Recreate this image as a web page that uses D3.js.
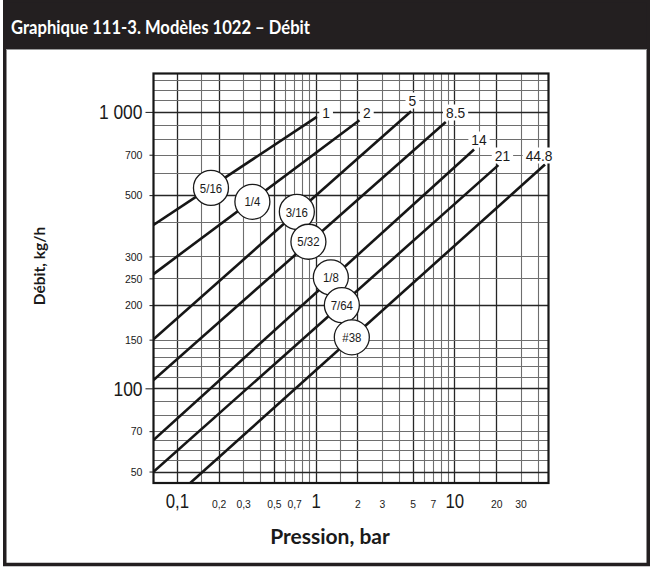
<!DOCTYPE html>
<html><head><meta charset="utf-8">
<script src="https://cdn.jsdelivr.net/npm/d3@7"></script>
<style>
html,body{margin:0;padding:0;background:#fff;}
svg{display:block;}
</style></head>
<body>
<svg id="chart" width="653" height="569"></svg>
<script>
// ---- data ----
const orificeSizes = ["5/16","1/4","3/16","5/32","1/8","7/64","#38"];
const maxPressureLabels = ["1","2","5","8.5","14","21","44.8"];
const startPressure = [0.0678,0.0678,0.0678,0.0678,0.0678,0.0678,0.1247];
const startFlow = [390,259,150.4,107.1,65.0,49.9,45.45];
const endPressure = [1.02,2.07,4.88,8.67,13.87,20.75,45.0];
const endFlow = [959,933,1006,920,731,642,645];
const badgePressure = [0.176,0.350,0.732,0.887,1.287,1.545,1.823];
const badgeFlow = [531,473,435,339,252,200,153];
const labelPressure = [1.19,2.34,4.98,10.2,15.06,22.2,40.8];
const labelFlow = [1000,1000,1100,1000,800,700,700];

const xMajorTicks = [0.1,1,10];
const xMajorLabels = ["0,1","1","10"];
const xMinorTicks = [0.2,0.3,0.5,0.7,2,3,5,7,20,30];
const xMinorLabels = ["0,2","0,3","0,5","0,7","2","3","5","7","20","30"];
const yMajorTicks = [100,1000];
const yMajorLabels = ["100","1 000"];
const yMinorTicks = [50,70,150,200,250,300,500,700];
const yMinorLabels = ["50","70","150","200","250","300","500","700"];
const xGrid = [0.1,0.15,0.2,0.3,0.4,0.5,0.6,0.7,0.8,0.9,1,1.5,2,3,4,5,6,7,8,9,10,15,20,30,40];
const yGrid = [50,55,60,65,70,80,90,100,110,120,130,140,150,200,250,300,400,500,600,700,800,900,1000,1100,1200,1300];

// ---- layout ----
const svg = d3.select("#chart");
const L = 153.5, R = 548.5, T = 73.5, B = 483;
const x = d3.scaleLog().domain([0.0678, 47.7]).range([L, R]);
const y = d3.scaleLog().domain([45.45, 1377]).range([B, T]);
const dark = "#231f20";
const sans = "'Liberation Sans',Arial,sans-serif";
const boldFont = "Lato,'Open Sans',sans-serif";

// frame + title bar
svg.append("rect").attr("x",3).attr("y",0).attr("width",647).attr("height",49).attr("fill",dark);
svg.append("rect").attr("x",4.75).attr("y",1).attr("width",643.5).attr("height",563.5)
  .attr("fill","none").attr("stroke",dark).attr("stroke-width",3.5);
svg.append("line").attr("x1",6.5).attr("x2",646.5).attr("y1",49.5).attr("y2",49.5).attr("stroke","#9a9a9a");
svg.append("text").attr("x",11).attr("y",34)
  .attr("fill","#fff").attr("font-family",boldFont).attr("font-weight","bold")
  .attr("font-size",19.5).attr("textLength",299).attr("lengthAdjust","spacingAndGlyphs")
  .text("Graphique 111-3. Modèles 1022 – Débit");

// grid
const isMajor = v => { const m = Math.round(v/Math.pow(10,Math.floor(Math.log10(v)+1e-9))*100)/100; return m===1||m===2||m===5; };
const grid = svg.append("g");
grid.selectAll("line.v").data(xGrid).join("line").attr("class","v")
  .attr("x1",d=>Math.round(x(d))+0.5).attr("x2",d=>Math.round(x(d))+0.5)
  .attr("y1",T).attr("y2",B)
  .attr("stroke",d=>isMajor(d)?"#262626":"#6e6e6e").attr("stroke-width",d=>isMajor(d)?1.3:1.1);
grid.selectAll("line.h").data(yGrid).join("line").attr("class","h")
  .attr("y1",d=>Math.round(y(d))+0.5).attr("y2",d=>Math.round(y(d))+0.5)
  .attr("x1",L).attr("x2",R)
  .attr("stroke",d=>isMajor(d)?"#262626":"#6e6e6e").attr("stroke-width",d=>isMajor(d)?1.3:1.1);

// clip
svg.append("clipPath").attr("id","clip").append("rect").attr("x",L).attr("y",T).attr("width",R-L).attr("height",B-T);

// diagonal lines
const lineData = orificeSizes.map((s,i)=>[[startPressure[i],startFlow[i]],[endPressure[i],endFlow[i]]]);
const lineGen = d3.line().x(d=>x(d[0])).y(d=>y(d[1]));
svg.append("g").attr("clip-path","url(#clip)").selectAll("path").data(lineData).join("path")
  .attr("d",lineGen).attr("fill","none").attr("stroke","#161616").attr("stroke-width",2.6);

// plot frame
svg.append("rect").attr("x",L).attr("y",T).attr("width",R-L).attr("height",B-T)
  .attr("fill","none").attr("stroke","#161616").attr("stroke-width",2.2);

// axes
function styleAxis(g, size, sx){
  g.select(".domain").remove();
  g.selectAll("text").attr("font-family",sans).attr("font-size",size).attr("fill","#1a1a1a");
  g.selectAll("line").attr("stroke","#1a1a1a");
  g.selectAll("text").each(function(){
    const t = d3.select(this);
    const tx = +t.attr("x")||0, ty = +t.attr("y")||0;
    t.attr("transform",`translate(${tx},${ty}) scale(${sx},1)`).attr("x",0).attr("y",0);
  });
}
const yMaj = svg.append("g").attr("transform",`translate(${L},0)`)
  .call(d3.axisLeft(y).tickValues(yMajorTicks).tickFormat((d,i)=>yMajorLabels[i]).tickSize(8).tickPadding(3));
styleAxis(yMaj, 21, 0.83);
const yMin = svg.append("g").attr("transform",`translate(${L},0)`)
  .call(d3.axisLeft(y).tickValues(yMinorTicks).tickFormat((d,i)=>yMinorLabels[i]).tickSize(4).tickPadding(7));
styleAxis(yMin, 11.5, 0.92);
const xMaj = svg.append("g").attr("transform",`translate(0,${B})`)
  .call(d3.axisBottom(x).tickValues(xMajorTicks).tickFormat((d,i)=>xMajorLabels[i]).tickSize(0));
xMaj.selectAll("text").attr("y",25).attr("dy",0);
styleAxis(xMaj, 20.5, 0.82);
const xMin = svg.append("g").attr("transform",`translate(0,${B})`)
  .call(d3.axisBottom(x).tickValues(xMinorTicks).tickFormat((d,i)=>xMinorLabels[i]).tickSize(0));
xMin.selectAll("text").attr("y",25).attr("dy",0);
styleAxis(xMin, 11.5, 0.9);

// max pressure labels on lines
const lab = svg.append("g").selectAll("g").data(maxPressureLabels).join("g")
  .attr("transform",(d,i)=>`translate(${x(labelPressure[i])},${Math.round(y(labelFlow[i]))+0.5})`);
lab.append("text").attr("text-anchor","middle").attr("dy","0.36em").attr("transform","scale(0.92,1)")
  .attr("font-family",sans).attr("font-size",15).attr("fill","#1a1a1a").text(d=>d);
lab.each(function(){
  const g = d3.select(this); const t = g.select("text"); const w = t.node().getComputedTextLength()*0.92;
  g.insert("rect","text").attr("x",-w/2-3).attr("y",-8).attr("width",w+6).attr("height",16).attr("fill","#fff");
});

// orifice badges
const bd = svg.append("g").selectAll("g").data(orificeSizes).join("g")
  .attr("transform",(d,i)=>`translate(${x(badgePressure[i])},${y(badgeFlow[i])})`);
bd.append("circle").attr("r",17.5).attr("fill","#fff").attr("stroke","#1a1a1a").attr("stroke-width",1.3);
bd.append("text").attr("text-anchor","middle").attr("dy","0.36em").attr("transform","scale(0.88,1)")
  .attr("font-family",sans).attr("font-size",13).attr("fill","#1a1a1a").text(d=>d);

// axis titles
svg.append("text").attr("transform","translate(45,266) rotate(-90)").attr("text-anchor","middle")
  .attr("font-family",boldFont).attr("font-weight","bold").attr("font-size",15.5)
  .attr("fill","#1a1a1a").text("Débit, kg/h");
svg.append("text").attr("x",330).attr("y",544).attr("text-anchor","middle")
  .attr("font-family",boldFont).attr("font-weight","bold").attr("font-size",21)
  .attr("fill","#1a1a1a").text("Pression, bar");
</script>
</body></html>
